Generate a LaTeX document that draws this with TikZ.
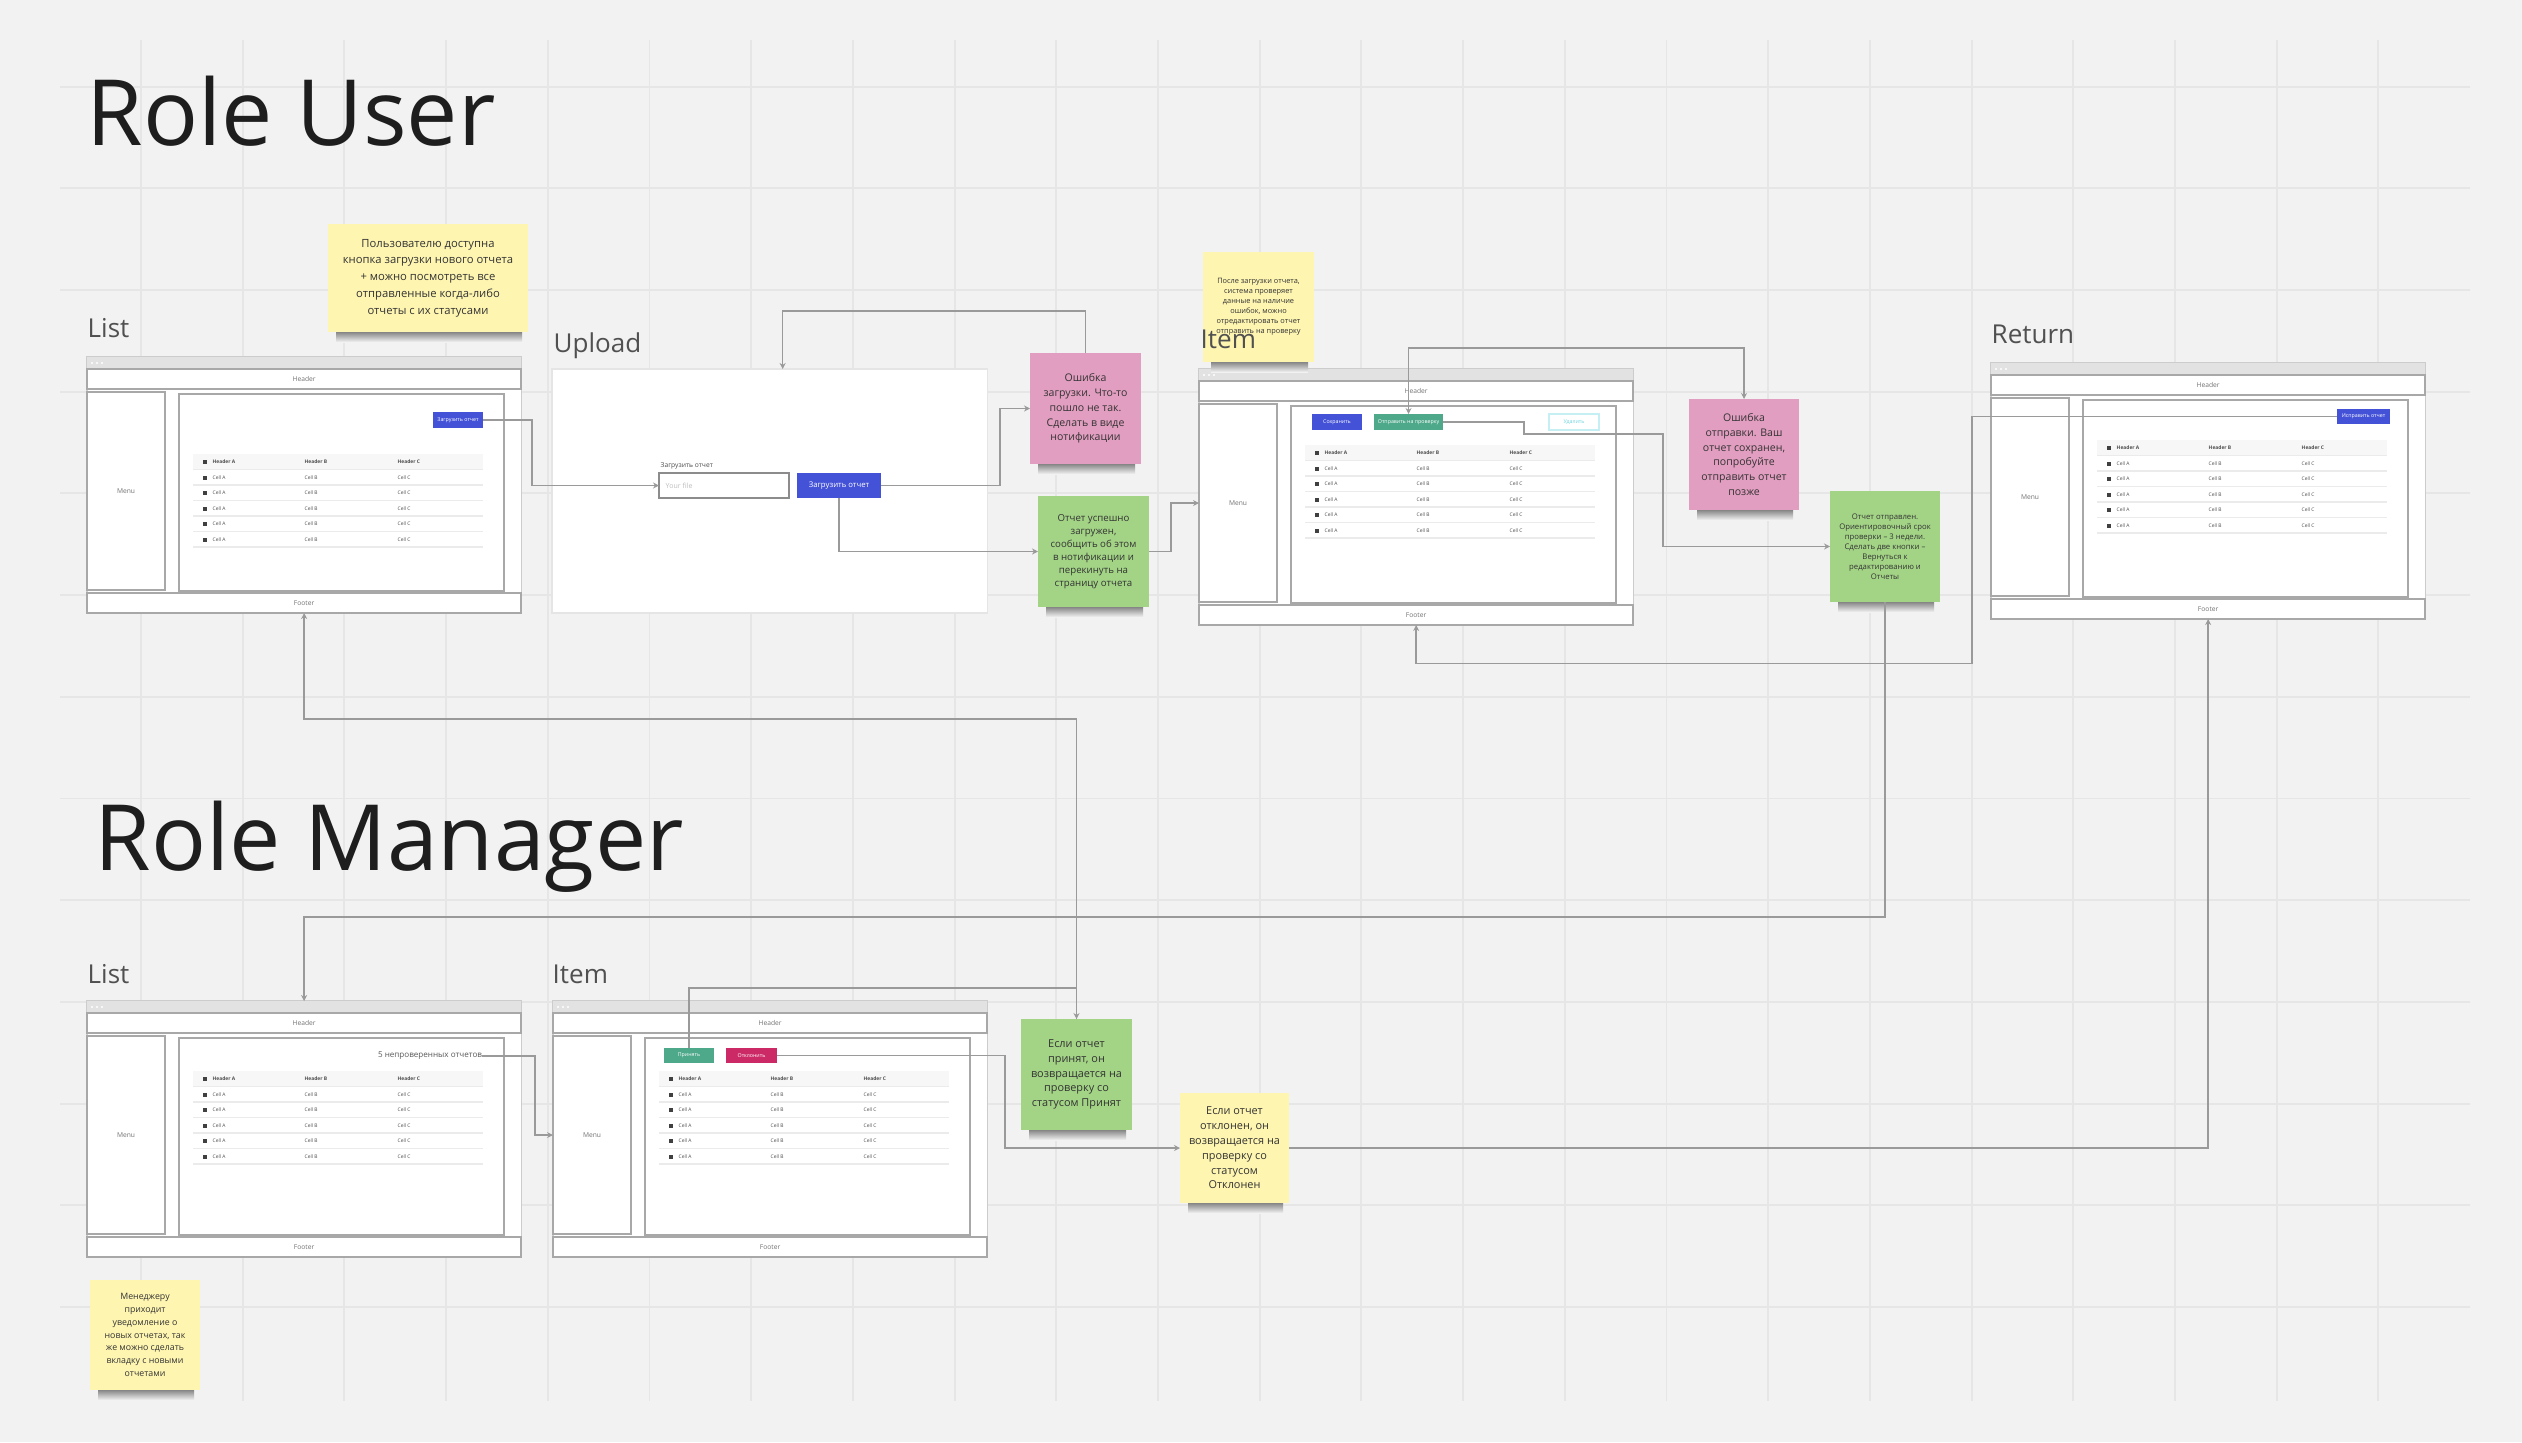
\documentclass[tikz,border=0pt]{standalone}
\usepackage{fontspec}
\setmainfont{Open Sans}
\usetikzlibrary{arrows.meta,calc}
\definecolor{bg}{HTML}{F2F2F2}
\definecolor{gridc}{HTML}{E6E6E6}
\definecolor{wline}{HTML}{A8A8A8}
\definecolor{wbar}{HTML}{E2E2E2}
\definecolor{connc}{HTML}{9A9A9A}
\definecolor{btnblue}{HTML}{4452D8}
\definecolor{btngreen}{HTML}{4DA98A}
\definecolor{btnred}{HTML}{CC2A67}
\definecolor{btncyan}{HTML}{6FD6E2}
\definecolor{noteY}{HTML}{FEF5B1}
\definecolor{noteP}{HTML}{E29EC0}
\definecolor{noteG}{HTML}{A3D486}
\definecolor{titlec}{HTML}{1E1E1E}
\definecolor{labc}{HTML}{505050}
\newcommand\fsz[2]{\fontsize{#1pt}{#2pt}\selectfont}

% wireframe: name, x, y (top-left, px)
\newcommand\wire[3]{%
  \node[frame] (#1) at (#2,#3) {};
  \fill[wbar] (#2,#3) rectangle ++(434,12);
  \foreach \d in {5,10,15} \fill[white] (#2+\d,#3+6) circle (0.011cm);
  \node[part, minimum width=4.34cm, minimum height=0.2cm] (#1-head) at (#2,#3+12) {Header};
  \node[part, minimum width=0.78cm, minimum height=1.98cm] (#1-menu) at (#2,#3+35) {Menu};
  \node[part, minimum width=3.25cm, minimum height=1.97cm] (#1-body) at (#2+92,#3+37) {};
  \node[part, minimum width=4.34cm, minimum height=0.2cm] (#1-foot) at (#2,#3+236) {Footer};
}
% table: name, x0 of frame, y of header row
\newcommand\wtab[3]{%
  \fill[black!3] (#2+106,#3-8) rectangle (#2+396,#3+7);
  \fill[black!75] (#2+116,#3-2) rectangle ++(4,4);
  \node[tcell] (#1-ha) at (#2+125,#3) {\bfseries Header A};
  \node[tcell] (#1-hb) at (#2+217,#3) {\bfseries Header B};
  \node[tcell] (#1-hc) at (#2+310,#3) {\bfseries Header C};
  \draw[rowl, line width=0.5pt] (#2+106,#3+7.5) -- (#2+396,#3+7.5);
  \foreach \i in {1,...,5}{%
    \pgfmathsetmacro\yy{#3+\i*15.5}
    \fill[black!75] (#2+116,\yy-2) rectangle ++(4,4);
    \node[tcell] (#1-a\i) at (#2+125,\yy) {Cell A};
    \node[tcell] (#1-b\i) at (#2+217,\yy) {Cell B};
    \node[tcell] (#1-c\i) at (#2+310,\yy) {Cell C};
    \draw[rowl] (#2+106,\yy+7.5) -- (#2+396,\yy+7.5);
  }%
}
% sticky note: name, x, y, w, h, colour, font, text
\newcommand\stick[8]{%
  \shade[top color=black!60, bottom color=bg] (#2+8,#3+#5-3) rectangle (#2+#4-6,#3+#5+10);
  \node[note, fill=#6, minimum width=#4*0.01cm, minimum height=#5*0.01cm, font=#7] (#1) at (#2,#3) {#8};
}

\begin{document}
\begin{tikzpicture}[x=0.01cm,y=-0.01cm,
  gridl/.style={draw=gridc, line width=0.55pt},
  frame/.style={draw=black!20, line width=0.4pt, fill=white, anchor=north west, inner sep=0pt, outer sep=0pt, minimum width=4.34cm, minimum height=2.56cm},
  part/.style={draw=wline, line width=0.55pt, fill=white, anchor=north west, inner sep=0pt, outer sep=0pt, font=\fsz{1.9}{2.2}, text=black!55},
  tcell/.style={anchor=west, inner sep=0pt, font=\fsz{1.4}{1.6}, text=black!70},
  rowl/.style={draw=black!8, line width=0.35pt},
  btn/.style={anchor=north west, inner sep=0pt, outer sep=0pt, text=white, font=\fsz{1.5}{1.8}},
  note/.style={anchor=north west, inner sep=0pt, outer sep=0pt, align=center, text=black!80},
  title/.style={anchor=base west, inner sep=0pt, text=titlec, font=\fsz{26}{30}},
  lab/.style={anchor=base west, inner sep=0pt, text=labc, font=\fsz{7.4}{8}},
  conn/.style={draw=connc, line width=0.45pt, -{Stealth[length=1.7pt,width=1.7pt]}},
  conn2/.style={draw=connc, line width=0.45pt, {Stealth[length=1.7pt,width=1.7pt]}-{Stealth[length=1.7pt,width=1.7pt]}}
]
\useasboundingbox (0,0) rectangle (2522,1442);
\fill[bg] (0,0) rectangle (2522,1442);
\begin{scope}
  \clip (60,40) rectangle (2470,1400);
  \foreach \k in {0,...,24} \draw[gridl] (39.3+\k*101.7,0) -- (39.3+\k*101.7,1442);
  \foreach \k in {0,...,13} \draw[gridl] (0,86.6+\k*101.7) -- (2522,86.6+\k*101.7);
\end{scope}

% titles
\node[title] (t-user) at (86,145) {Role User};
\node[title] (t-mgr) at (94,870) {Role Manager};

% ---------- User: List ----------
\node[lab] (l-ul) at (87,337) {List};
\wire{ul}{87}{357}
\wtab{ult}{87}{462}
\node[btn, fill=btnblue, minimum width=0.5cm, minimum height=0.16cm] (ul-btn) at (433,412) {Загрузить отчет};

\stick{n1}{328}{224}{200}{108}{noteY}{\fsz{3.2}{4.75}}{Пользователю доступна\\кнопка загрузки нового отчета\\+ можно посмотреть все\\отправленные когда-либо\\отчеты с их статусами}

% ---------- User: Upload ----------
\node[lab] (l-up) at (553,352) {Upload};
\node[draw=black!10, line width=0.4pt, fill=white, anchor=north west, inner sep=0pt, outer sep=0pt, minimum width=4.35cm, minimum height=2.44cm] (up) at (552,369) {};
\node[anchor=west, inner sep=0pt, font=\fsz{1.9}{2.2}, text=black!70] (up-lab) at (660,466) {Загрузить отчет};
\node[draw=black!45, line width=0.6pt, fill=white, anchor=north west, inner sep=0pt, outer sep=0pt, minimum width=1.3cm, minimum height=0.25cm] (up-in) at (659,473) {};
\node[anchor=west, inner sep=0pt, font=\fsz{2}{2.3}, text=black!25] (up-ph) at (665,485.5) {Your file};
\node[btn, fill=btnblue, minimum width=0.84cm, minimum height=0.25cm, font=\fsz{2.2}{2.5}] (up-btn) at (797,473) {Загрузить отчет};

\stick{n2}{1030}{353}{111}{111}{noteP}{\fsz{3.0}{4.2}}{Ошибка\\загрузки. Что-то\\пошло не так.\\Сделать в виде\\нотификации}
\stick{n3}{1038}{496}{111}{111}{noteG}{\fsz{2.75}{3.7}}{Отчет успешно\\загружен,\\сообщить об этом\\в нотификации и\\перекинуть на\\страницу отчета}

% ---------- User: Item ----------
\wire{it}{1199}{369}
\wtab{itt}{1199}{453}
\node[btn, fill=btnblue, minimum width=0.5cm, minimum height=0.16cm] (it-save) at (1312,414) {Сохранить};
\node[btn, fill=btngreen, minimum width=0.69cm, minimum height=0.16cm] (it-send) at (1374,414) {Отправить на проверку};
\node[btn, fill=white, draw=btncyan!40, line width=0.4pt, text=btncyan, minimum width=0.5cm, minimum height=0.16cm] (it-del) at (1549,414) {Удалить};
\stick{n4}{1203}{252}{111}{110}{noteY}{\fsz{2.1}{2.85}}{После загрузки отчета,\\система проверяет\\данные на наличие\\ошибок, можно\\отредактировать отчет\\отправить на проверку}
\node[lab] (l-it) at (1200,348) {Item};

\stick{n5}{1689}{399}{110}{111}{noteP}{\fsz{3.0}{4.2}}{Ошибка\\отправки. Ваш\\отчет сохранен,\\попробуйте\\отправить отчет\\позже}
\stick{n6}{1830}{491}{110}{111}{noteG}{\fsz{2.2}{2.85}}{Отчет отправлен.\\Ориентировочный срок\\проверки – 3 недели.\\Сделать две кнопки –\\Вернуться к\\редактированию и\\Отчеты}

% ---------- User: Return ----------
\node[lab] (l-rt) at (1991,343) {Return};
\wire{rt}{1991}{363}
\wtab{rtt}{1991}{448}
\node[btn, fill=btnblue, minimum width=0.53cm, minimum height=0.15cm] (rt-btn) at (2337,409) {Исправить отчет};

% ---------- Manager: List ----------
\node[lab] (l-ml) at (87,983) {List};
\wire{ml}{87}{1001}
\wtab{mlt}{87}{1079}
\node[anchor=east, inner sep=0pt, outer sep=0pt, font=\fsz{2.3}{2.6}, text=black!65] (ml-new) at (482,1056) {5 непроверенных отчетов};
\stick{n9}{90}{1280}{110}{110}{noteY}{\fsz{2.5}{3.65}}{Менеджеру\\приходит\\уведомление о\\новых отчетах, так\\же можно сделать\\вкладку с новыми\\отчетами}

% ---------- Manager: Item ----------
\node[lab] (l-mi) at (552,983) {Item};
\wire{mi}{553}{1001}
\wtab{mit}{553}{1079}
\node[btn, fill=btngreen, minimum width=0.5cm, minimum height=0.15cm] (mi-acc) at (664,1048) {Принять};
\node[btn, fill=btnred, minimum width=0.51cm, minimum height=0.15cm] (mi-rej) at (726,1048) {Отклонить};

\stick{n7}{1021}{1019}{111}{111}{noteG}{\fsz{3.1}{4.2}}{Если отчет\\принят, он\\возвращается на\\проверку со\\статусом Принят}
\stick{n8}{1180}{1093}{109}{110}{noteY}{\fsz{3.1}{4.2}}{Если отчет\\отклонен, он\\возвращается на\\проверку со\\статусом\\Отклонен}

% ---------- connectors ----------
\draw[conn] (ul-btn.east) -- ++(49,0) |- (up-in.west);
\draw[conn] (up-btn.east) -- ++(119,0) |- (n2.west);
\draw[conn] (up-btn.south) |- (n3.west);
\draw[conn] (n2.north) -- ++(0,-42) -| ([xshift=0.13cm]up.north);
\draw[conn] (n3.east) -- ++(22,0) |- (it-menu.west);
\draw[conn2] (it-send.north) -- ++(0,-66) -| (n5.north);
\draw[conn] (it-send.east) -- ++(81,0) -- ++(0,12) -- ++(139,0) |- (n6.west);
\draw[conn] (rt-btn.west) -- ++(-365,0) -- ++(0,247) -| (it-foot.south);
\draw[conn] (n6.south) -- ++(0,315) -| (ml.north);
\draw[conn] (ml-new.east) -- ++(53,0) |- (mi-menu.west);
\draw[conn] (mi-acc.north) -- ++(0,-60) -| (n7.north);
\draw[conn] (n7.north) -- ++(0,-300) -| (ul-foot.south);
\draw[conn] (mi-rej.east) -- ++(228,0) |- (n8.west);
\draw[conn] (n8.east) -| (rt-foot.south);
\end{tikzpicture}
\end{document}
